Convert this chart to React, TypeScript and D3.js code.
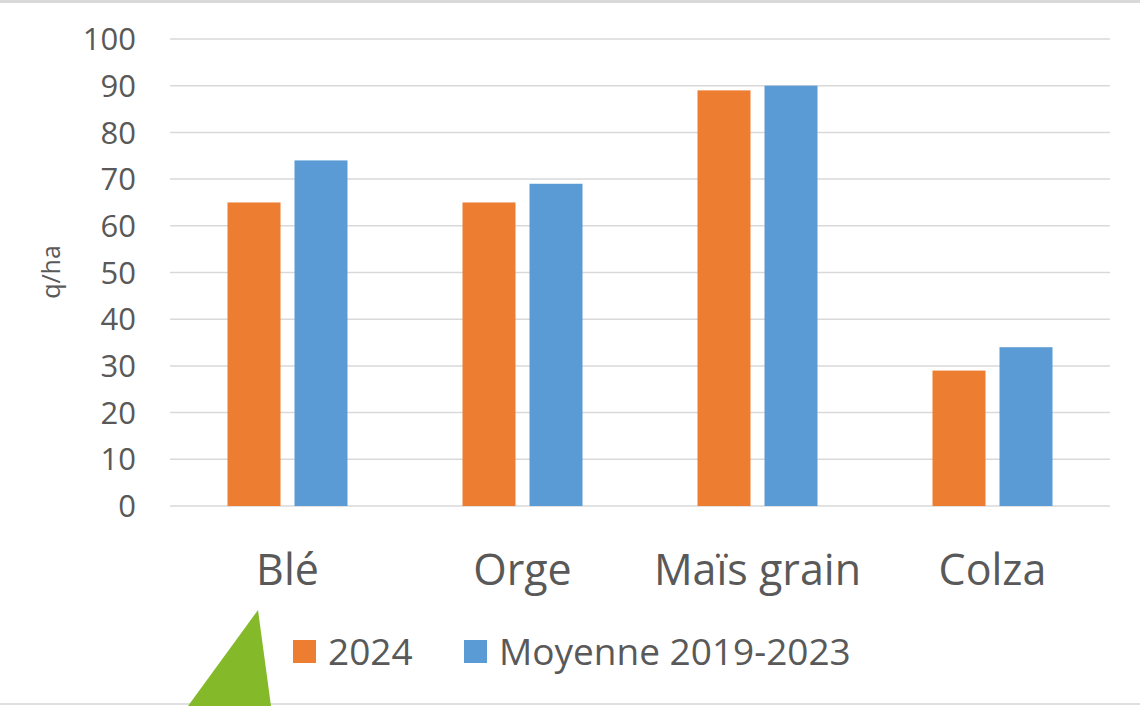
import React, { useEffect, useRef } from 'react';
import * as d3 from 'd3';

const categories = ['Blé', 'Orge', 'Maïs grain', 'Colza'];
const seriesNames = ['2024', 'Moyenne 2019-2023'];
const values2024 = [65, 65, 89, 29];
const valuesAvg = [74, 69, 90, 34];
const yTicks = [0, 10, 20, 30, 40, 50, 60, 70, 80, 90, 100];

const colors = ['#ED7D31', '#5B9BD5'];
const textColor = '#595959';
const font = '"Open Sans", "Noto Sans", sans-serif';

const App: React.FC = () => {
  const svgRef = useRef<SVGSVGElement>(null);

  useEffect(() => {
    if (!svgRef.current) return;
    const svg = d3.select(svgRef.current);
    svg.selectAll('*').remove();

    const W = 1140;
    const left = 170, right = 1110, top = 39, bottom = 506;

    // frame lines
    svg.append('rect').attr('x', 0).attr('y', 0).attr('width', W).attr('height', 3).attr('fill', '#d9d9d9');
    svg.append('rect').attr('x', 0).attr('y', 703).attr('width', W).attr('height', 2).attr('fill', '#e0e0e0');

    const x = d3.scaleBand().domain(categories).range([left, right]).paddingInner(0).paddingOuter(0);
    const y = d3.scaleLinear().domain([0, 100]).range([bottom, top]);

    // grid
    svg.append('g')
      .selectAll('line')
      .data(yTicks)
      .enter()
      .append('line')
      .attr('x1', left)
      .attr('x2', right)
      .attr('y1', d => y(d))
      .attr('y2', d => y(d))
      .attr('stroke', '#d9d9d9')
      .attr('stroke-width', 1.5);

    // y tick labels
    svg.append('g')
      .selectAll('text')
      .data(yTicks)
      .enter()
      .append('text')
      .attr('x', 136)
      .attr('y', d => y(d))
      .attr('dy', '0.36em')
      .attr('text-anchor', 'end')
      .style('font-family', font)
      .style('font-size', '31px')
      .style('fill', textColor)
      .text(d => d);

    // y axis title
    svg.append('text')
      .attr('transform', `translate(60,272) rotate(-90)`)
      .attr('text-anchor', 'middle')
      .style('font-family', font)
      .style('font-size', '25px')
      .style('fill', textColor)
      .text('q/ha');

    const barW = 53;
    const gap = 14;
    const series = [values2024, valuesAvg];

    series.forEach((vals, si) => {
      svg.append('g')
        .selectAll('rect')
        .data(vals)
        .enter()
        .append('rect')
        .attr('x', (_, i) => {
          const c = (x(categories[i]) || 0) + x.bandwidth() / 2;
          return si === 0 ? c - gap / 2 - barW : c + gap / 2;
        })
        .attr('y', d => y(d))
        .attr('width', barW)
        .attr('height', d => bottom - y(d))
        .attr('fill', colors[si]);
    });

    // category labels
    svg.append('g')
      .selectAll('text')
      .data(categories)
      .enter()
      .append('text')
      .attr('x', d => (x(d) || 0) + x.bandwidth() / 2)
      .attr('y', 585)
      .attr('text-anchor', 'middle')
      .style('font-family', font)
      .style('font-size', '43px')
      .style('fill', textColor)
      .text(d => d);

    // legend
    const legendX = [293, 464];
    seriesNames.forEach((name, i) => {
      svg.append('rect')
        .attr('x', legendX[i])
        .attr('y', 640)
        .attr('width', 23)
        .attr('height', 23)
        .attr('fill', colors[i]);
      svg.append('text')
        .attr('x', legendX[i] + 35)
        .attr('y', 665)
        .style('font-family', font)
        .style('font-size', '37px')
        .style('fill', textColor)
        .text(name);
    });

    // decorative green triangle
    svg.append('path')
      .attr('d', 'M258,610 L188,706 L271,706 Z')
      .attr('fill', '#84B92A');
  }, []);

  return (
    <svg
      ref={svgRef}
      width="1140"
      height="706"
      style={{ position: 'absolute', left: 0, top: 0, background: '#fff' }}
    />
  );
};

export default App;
